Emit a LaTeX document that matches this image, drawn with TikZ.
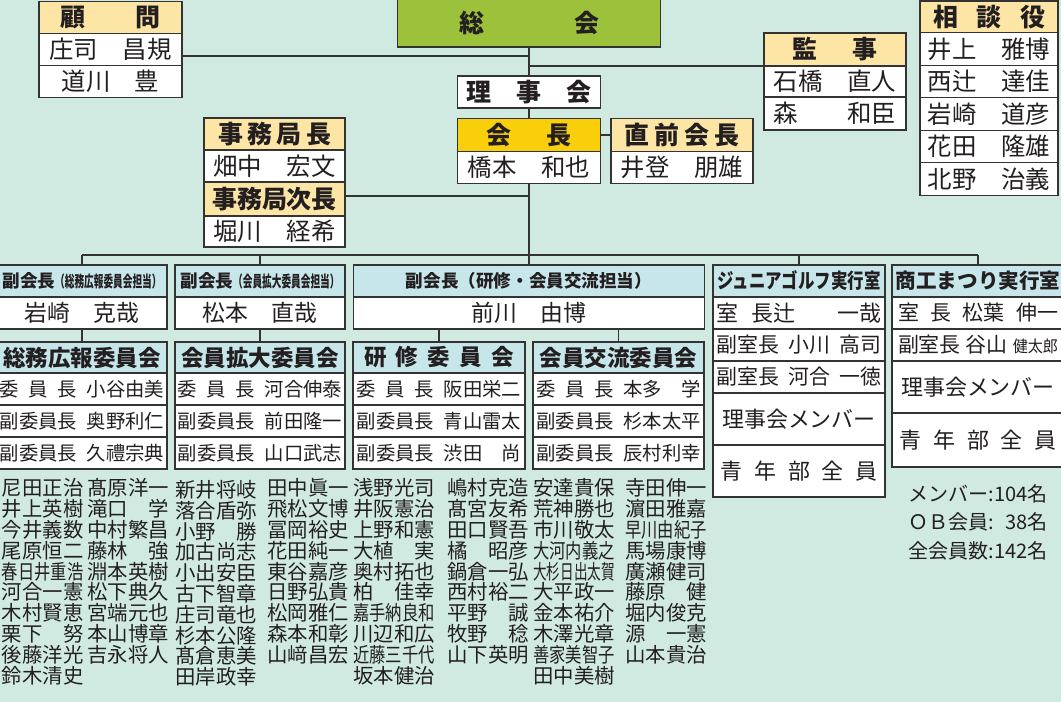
\documentclass[tikz,border=0pt]{standalone}
\usepackage{xcolor}
\usepackage{tikz}
\usepackage{graphicx}
\usepackage{fontspec}
\setmainfont{Noto Sans CJK JP}
\definecolor{bgcolor}{HTML}{D0EAE2}
\definecolor{sokaicolor}{HTML}{9CC23C}
\definecolor{tancolor}{HTML}{FDE5A6}
\definecolor{goldcolor}{HTML}{F8CF0A}
\definecolor{bluecolor}{HTML}{C7E6EA}
\definecolor{linecolor}{HTML}{333333}
\definecolor{inkcolor}{HTML}{231F20}
\newcommand{\spreadto}[2]{\makebox[#1][s]{#2}}
\newcommand{\sqz}[1]{\resizebox{4em}{\height}{#1}}
\newcommand{\memberrow}[2]{\makebox[4em][s]{#1}\hspace{0.5em}\makebox[4em][s]{#2}}
\tikzset{%
  cell/.style={draw=linecolor, line width=0.8pt, rectangle, inner sep=0pt, fill=white, text=inkcolor},%
  tophead/.style={cell, fill=tancolor, font=\bfseries\fontsize{14.2}{16}\selectfont},%
  topname/.style={cell, font=\fontsize{13.9}{16}\selectfont},%
  vphead/.style={cell, fill=bluecolor, font=\bfseries\fontsize{10}{12}\selectfont},%
  vpname/.style={cell, font=\fontsize{13}{15}\selectfont},%
  iinhead/.style={cell, fill=bluecolor, font=\bfseries\fontsize{12.8}{14}\selectfont},%
  iinrow/.style={cell, font=\fontsize{11}{13}\selectfont},%
  roomhead/.style={cell, fill=bluecolor, font=\bfseries\fontsize{11.7}{14}\selectfont},%
  roomrow/.style={cell, font=\fontsize{11.9}{14}\selectfont},%
  roombig/.style={cell, font=\fontsize{12.5}{15}\selectfont},%
  namecol/.style={anchor=north west, inner sep=0pt, align=left, text=inkcolor, font=\fontsize{11.6}{11.83}\selectfont},%
  countnote/.style={anchor=north east, inner sep=0pt, align=right, text=inkcolor, font=\fontsize{11.4}{16.2}\selectfont},%
  link/.style={draw=linecolor, line width=0.7pt}%
}
\begin{document}%
\begin{tikzpicture}[x=1cm, y=-1cm]%
\useasboundingbox (0, 0) rectangle (21.22, 14.04);%
\fill[bgcolor] (0, 0) rectangle (21.22, 14.04);%
\node[tophead, minimum width=2.86cm, minimum height=0.64cm] (komonhead) at (2.21, 0.35) {顧　　問};%
\node[topname, minimum width=2.86cm, minimum height=0.64cm] (komonA) at (2.21, 0.99) {庄司　昌規};%
\node[topname, minimum width=2.86cm, minimum height=0.64cm] (komonB) at (2.21, 1.63) {道川　豊};%
\node[tophead, fill=sokaicolor, minimum width=5.26cm, minimum height=0.96cm] (sokai) at (10.58, 0.46) {\spreadto{2.8cm}{総 会}};%
\node[tophead, fill=white, minimum width=2.86cm, minimum height=0.64cm] (rijikai) at (10.58, 1.84) {\spreadto{2.5cm}{理 事 会}};%
\node[tophead, fill=goldcolor, minimum width=2.86cm, minimum height=0.66cm] (kaichohead) at (10.58, 2.70) {\spreadto{1.7cm}{会 長}};%
\node[topname, minimum width=2.86cm, minimum height=0.64cm] (kaichoname) at (10.58, 3.35) {橋本　和也};%
\node[tophead, minimum width=2.84cm, minimum height=0.66cm] (zenhead) at (13.64, 2.70) {\spreadto{2.3cm}{直 前 会 長}};%
\node[topname, minimum width=2.84cm, minimum height=0.64cm] (zenname) at (13.64, 3.35) {井登　朋雄};%
\node[tophead, minimum width=2.84cm, minimum height=0.66cm] (kanjihead) at (16.70, 0.99) {\spreadto{1.7cm}{監 事}};%
\node[topname, minimum width=2.84cm, minimum height=0.62cm] (kanjiA) at (16.70, 1.63) {石橋　直人};%
\node[topname, minimum width=2.84cm, minimum height=0.66cm] (kanjiB) at (16.70, 2.27) {森　　和臣};%
\node[tophead, minimum width=2.76cm, minimum height=0.64cm] (sodanhead) at (19.78, 0.34) {\spreadto{2.24cm}{相 談 役}};%
\node[topname, minimum width=2.76cm, minimum height=0.65cm] (sodanA) at (19.78, 0.98) {井上　雅博};%
\node[topname, minimum width=2.76cm, minimum height=0.65cm] (sodanB) at (19.78, 1.63) {西辻　達佳};%
\node[topname, minimum width=2.76cm, minimum height=0.65cm] (sodanC) at (19.78, 2.28) {岩崎　道彦};%
\node[topname, minimum width=2.76cm, minimum height=0.65cm] (sodanD) at (19.78, 2.93) {花田　隆雄};%
\node[topname, minimum width=2.76cm, minimum height=0.65cm] (sodanE) at (19.78, 3.58) {北野　治義};%
\node[tophead, minimum width=2.82cm, minimum height=0.64cm] (jimuhead) at (5.49, 2.68) {\spreadto{2.26cm}{事 務 局 長}};%
\node[topname, minimum width=2.82cm, minimum height=0.64cm] (jimuname) at (5.49, 3.32) {畑中　宏文};%
\node[tophead, minimum width=2.82cm, minimum height=0.68cm] (jimujihead) at (5.49, 3.98) {事務局次長};%
\node[topname, minimum width=2.82cm, minimum height=0.62cm] (jimujiname) at (5.49, 4.63) {堀川　経希};%
\coordinate (komonjoin) at (10.58, 1.12);%
\coordinate (kanjijoin) at (10.58, 1.32);%
\coordinate (jimujoin) at (10.58, 3.92);%
\coordinate (busmid) at (10.58, 5.10);%
\draw[link] (sokai.south) -- (rijikai.north);%
\draw[link] (rijikai.south) -- (kaichohead.north);%
\draw[link] (kaichoname.south) -- (busmid);%
\draw[link] (komonjoin -| komonA.east) -- (komonjoin);%
\draw[link] (kanjijoin) -- (kanjijoin -| kanjihead.west);%
\draw[link] (jimujoin -| jimujihead.east) -- (jimujoin);%
\draw[link] (kaichohead.east) -- (zenhead.west);%
\node[vphead, minimum width=3.40cm, minimum height=0.64cm] (vpAhead) at (1.64, 5.62) {副会長\scalebox{0.55}[0.9]{（総務広報委員会担当）}};%
\node[vpname, minimum width=3.40cm, minimum height=0.64cm] (vpAname) at (1.64, 6.26) {岩崎　克哉};%
\node[vphead, minimum width=3.40cm, minimum height=0.64cm] (vpBhead) at (5.20, 5.62) {副会長\scalebox{0.55}[0.9]{（会員拡大委員会担当）}};%
\node[vpname, minimum width=3.40cm, minimum height=0.64cm] (vpBname) at (5.20, 6.26) {松本　直哉};%
\node[vphead, minimum width=7.02cm, minimum height=0.64cm] (vpChead) at (10.58, 5.62) {副会長（研修・会員交流担当）};%
\node[vpname, minimum width=7.02cm, minimum height=0.64cm] (vpCname) at (10.58, 6.26) {前川　由博};%
\node[roomhead, minimum width=3.44cm, minimum height=0.64cm] (junhead) at (15.98, 5.62) {\scalebox{0.8}[1]{ジュニアゴルフ実行室}};%
\node[roombig, minimum width=3.44cm, minimum height=0.64cm] (junA) at (15.98, 6.26) {\makebox[3.3cm][l]{室\hspace{0.6em}長辻\hfill 一哉}};%
\node[roomrow, minimum width=3.44cm, minimum height=0.64cm] (junB) at (15.98, 6.90) {\spreadto{3.3cm}{副室長 小川 高司}};%
\node[roomrow, minimum width=3.44cm, minimum height=0.64cm] (junC) at (15.98, 7.54) {\spreadto{3.3cm}{副室長 河合 一徳}};%
\node[roombig, minimum width=3.44cm, minimum height=1.04cm] (junD) at (15.98, 8.38) {理事会メンバー};%
\node[roombig, minimum width=3.44cm, minimum height=1.04cm] (junE) at (15.98, 9.42) {\spreadto{3.15cm}{青 年 部 全 員}};%
\node[roomhead, minimum width=3.44cm, minimum height=0.64cm] (shohead) at (19.56, 5.62) {商工まつり実行室};%
\node[roomrow, minimum width=3.44cm, minimum height=0.64cm] (shoA) at (19.56, 6.26) {\spreadto{3.2cm}{室 長 松葉 伸一}};%
\node[roomrow, minimum width=3.44cm, minimum height=0.64cm] (shoB) at (19.56, 6.90) {\spreadto{3.2cm}{副室長 谷山 \scalebox{0.72}[0.78]{健太郎}}};%
\node[roombig, minimum width=3.44cm, minimum height=1.04cm] (shoC) at (19.56, 7.74) {理事会メンバー};%
\node[roombig, minimum width=3.44cm, minimum height=1.08cm] (shoD) at (19.56, 8.80) {\spreadto{3.15cm}{青 年 部 全 員}};%
\draw[link] (vpAhead.north |- busmid) -- (shohead.north |- busmid);%
\draw[link] (vpAhead.north |- busmid) -- (vpAhead.north);%
\draw[link] (vpBhead.north |- busmid) -- (vpBhead.north);%
\draw[link] (busmid) -- (vpChead.north);%
\draw[link] (junhead.north |- busmid) -- (junhead.north);%
\draw[link] (shohead.north |- busmid) -- (shohead.north);%
\node[iinhead, minimum width=3.40cm, minimum height=0.62cm] (iinAhead) at (1.64, 7.15) {総務広報委員会};%
\node[iinrow, minimum width=3.40cm, minimum height=0.64cm] (iinA1) at (1.64, 7.78) {\memberrow{委 員 長}{小谷由美}};%
\node[iinrow, minimum width=3.40cm, minimum height=0.64cm] (iinA2) at (1.64, 8.42) {\memberrow{副委員長}{奥野利仁}};%
\node[iinrow, minimum width=3.40cm, minimum height=0.64cm] (iinA3) at (1.64, 9.06) {\memberrow{副委員長}{久禮宗典}};%
\node[iinhead, minimum width=3.40cm, minimum height=0.62cm] (iinBhead) at (5.20, 7.15) {会員拡大委員会};%
\node[iinrow, minimum width=3.40cm, minimum height=0.64cm] (iinB1) at (5.20, 7.78) {\memberrow{委 員 長}{河合伸泰}};%
\node[iinrow, minimum width=3.40cm, minimum height=0.64cm] (iinB2) at (5.20, 8.42) {\memberrow{副委員長}{前田隆一}};%
\node[iinrow, minimum width=3.40cm, minimum height=0.64cm] (iinB3) at (5.20, 9.06) {\memberrow{副委員長}{山口武志}};%
\node[iinhead, minimum width=3.44cm, minimum height=0.62cm] (iinChead) at (8.78, 7.15) {\spreadto{3.0cm}{研 修 委 員 会}};%
\node[iinrow, minimum width=3.44cm, minimum height=0.64cm] (iinC1) at (8.78, 7.78) {\memberrow{委 員 長}{阪田栄二}};%
\node[iinrow, minimum width=3.44cm, minimum height=0.64cm] (iinC2) at (8.78, 8.42) {\memberrow{副委員長}{青山雷太}};%
\node[iinrow, minimum width=3.44cm, minimum height=0.64cm] (iinC3) at (8.78, 9.06) {\memberrow{副委員長}{渋田 尚}};%
\node[iinhead, minimum width=3.42cm, minimum height=0.62cm] (iinDhead) at (12.37, 7.15) {会員交流委員会};%
\node[iinrow, minimum width=3.42cm, minimum height=0.64cm] (iinD1) at (12.37, 7.78) {\memberrow{委 員 長}{本多 学}};%
\node[iinrow, minimum width=3.42cm, minimum height=0.64cm] (iinD2) at (12.37, 8.42) {\memberrow{副委員長}{杉本太平}};%
\node[iinrow, minimum width=3.42cm, minimum height=0.64cm] (iinD3) at (12.37, 9.06) {\memberrow{副委員長}{辰村利幸}};%
\draw[link] (vpAname.south) -- (iinAhead.north);%
\draw[link] (vpBname.south) -- (iinBhead.north);%
\draw[link] (iinChead.north |- vpCname.south) -- (iinChead.north);%
\draw[link] (iinDhead.north |- vpCname.south) -- (iinDhead.north);%
\node[namecol] (colA) at (0.03, 9.57) {尼田正治\\井上英樹\\今井義数\\尾原恒二\\\sqz{春日井重浩}\\河合一憲\\木村賢恵\\栗下　努\\後藤洋光\\鈴木清史};%
\node[namecol] (colB) at (1.74, 9.57) {髙原洋一\\滝口　学\\中村繁昌\\藤林　強\\淵本英樹\\松下典久\\宮端元也\\本山博章\\吉永将人};%
\node[namecol] (colC) at (3.50, 9.60) {新井将岐\\落合盾弥\\小野　勝\\加古尚志\\小出安臣\\古下智章\\庄司竜也\\杉本公隆\\髙倉恵美\\田岸政幸};%
\node[namecol] (colD) at (5.34, 9.57) {田中眞一\\飛松文博\\冨岡裕史\\花田純一\\東谷嘉彦\\日野弘貴\\松岡雅仁\\森本和彰\\山﨑昌宏};%
\node[namecol] (colE) at (7.06, 9.57) {浅野光司\\井阪憲治\\上野和憲\\大植　実\\奥村拓也\\柏　佳幸\\\sqz{嘉手納良和}\\川辺和広\\\sqz{近藤三千代}\\坂本健治};%
\node[namecol] (colF) at (8.94, 9.57) {嶋村克造\\髙宮友希\\田口賢吾\\橘　昭彦\\鍋倉一弘\\西村裕二\\平野　誠\\牧野　稔\\山下英明};%
\node[namecol] (colG) at (10.66, 9.57) {安達貴保\\荒神勝也\\市川敬太\\\sqz{大河内義之}\\\sqz{大杉日出太賀}\\大平政一\\金本祐介\\木澤光章\\\sqz{善家美智子}\\田中美樹};%
\node[namecol] (colH) at (12.50, 9.57) {寺田伸一\\濵田雅嘉\\\sqz{早川由紀子}\\馬場康博\\廣瀬健司\\藤原　健\\堀内俊克\\源　一憲\\山本貴治};%
\node[countnote] (counts) at (20.96, 9.68) {メンバー:104名\\ＯＢ会員:\phantom{1}38名\\全会員数:142名};%
\end{tikzpicture}%
\end{document}
